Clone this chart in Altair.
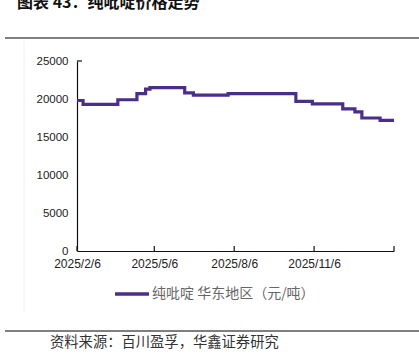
import altair as alt
import pandas as pd

# ---- data ----
dates = ["2025/02/06", "2025/02/13", "2025/03/25", "2025/04/16", "2025/04/26",
         "2025/05/01", "2025/06/10", "2025/06/20", "2025/07/30", "2025/10/16",
         "2025/11/04", "2025/12/09", "2025/12/23", "2025/12/31", "2026/01/21",
         "2026/02/06"]
prices = [19800, 19300, 19900, 20700, 21300,
          21500, 20800, 20500, 20700, 19700,
          19350, 18700, 18300, 17500, 17200,
          17200]
series_name = "纯吡啶 华东地区（元/吨）"
tick_dates = ["2025/02/06", "2025/05/06", "2025/08/06", "2025/11/06", "2026/02/06"]
label_dates = [(2025, 2, 6), (2025, 5, 6), (2025, 8, 6), (2025, 11, 6)]
y_values = [0, 5000, 10000, 15000, 20000, 25000]
title_text = "图表 43：纯吡啶价格走势"
source_text = "资料来源：百川盈孚，华鑫证券研究"

df = pd.DataFrame({"date": dates, "price": prices})
ticks_df = pd.DataFrame({"date": tick_dates})
ytop_df = pd.DataFrame({"price": [max(y_values)]})
one = pd.DataFrame({"k": [0]})

W, H = 317, 190
PURPLE = "#4B2D8C"
CJK = "Noto Sans CJK SC"
LAT = "Liberation Sans"

x_scale = alt.Scale(domain=[alt.DateTime(year=2025, month=2, date=6),
                            alt.DateTime(year=2026, month=2, date=6)])
y_scale = alt.Scale(domain=[0, 25000])

x_axis = alt.Axis(values=[alt.DateTime(year=a, month=b, date=c) for a, b, c in label_dates],
                  format="%Y/%-m/%-d", ticks=False, grid=False,
                  domainColor="#111", domainWidth=1.2,
                  labelFont=LAT, labelFontSize=12, labelColor="#222",
                  labelPadding=7, labelFlush=False, labelOverlap=False)
y_axis = alt.Axis(values=y_values, format="d", ticks=False, grid=False,
                  domainColor="#111", domainWidth=1.2,
                  labelFont=LAT, labelFontSize=11.5, labelColor="#222",
                  labelPadding=9, labelOverlap=False, labelFlush=False,
                  labelBound=False)

line = alt.Chart(df).mark_line(color=PURPLE, strokeWidth=3.2,
                               interpolate="step-after").encode(
    x=alt.X("date:T", scale=x_scale, title=None, axis=x_axis),
    y=alt.Y("price:Q", scale=y_scale, title=None, axis=y_axis),
)

xticks = alt.Chart(ticks_df).mark_rule(color="#111", strokeWidth=1.2).encode(
    x=alt.X("date:T", scale=x_scale, title=None, axis=x_axis),
    y=alt.value(H), y2=alt.value(H - 5))

ytop = alt.Chart(ytop_df).mark_rule(color="#111", strokeWidth=1.2).encode(
    y=alt.Y("price:Q", scale=y_scale, title=None, axis=y_axis),
    x=alt.value(0), x2=alt.value(5))

base = alt.Chart(one)

title = base.mark_text(text=title_text, font=CJK, fontSize=16, fontWeight="bold",
                       align="left", baseline="middle", color="#111").encode(
    x=alt.value(-60), y=alt.value(-58))

top_rule = base.mark_rule(color="#555", strokeWidth=1.5).encode(
    x=alt.value(-72), x2=alt.value(342), y=alt.value(-23))

frame = base.mark_rule(color="#f0f0f0", strokeWidth=1).encode(
    x=alt.value(-53), y=alt.value(-20), y2=alt.value(251))

leg_line = base.mark_rule(color=PURPLE, strokeWidth=3.5).encode(
    x=alt.value(38), x2=alt.value(72), y=alt.value(233))

leg_text = base.mark_text(text=series_name, font=CJK, fontSize=14,
                          align="left", baseline="middle", color="#666").encode(
    x=alt.value(75), y=alt.value(233))

bottom_rule = base.mark_rule(color="#555", strokeWidth=1.5).encode(
    x=alt.value(-72), x2=alt.value(342), y=alt.value(270))

source = base.mark_text(text=source_text, font=CJK, fontSize=14.3,
                        align="left", baseline="middle", color="#333").encode(
    x=alt.value(-27), y=alt.value(282))

chart = alt.layer(frame, line, xticks, ytop, title, top_rule, leg_line, leg_text,
                  bottom_rule, source).properties(
    width=W, height=H,
    padding={"left": 77, "top": 61, "right": 25, "bottom": 103},
    autosize=alt.AutoSizeParams(type="none"),
    background="white",
).configure_view(stroke=None)

chart.save("out.html", embed_options={"renderer": "svg", "actions": False})
